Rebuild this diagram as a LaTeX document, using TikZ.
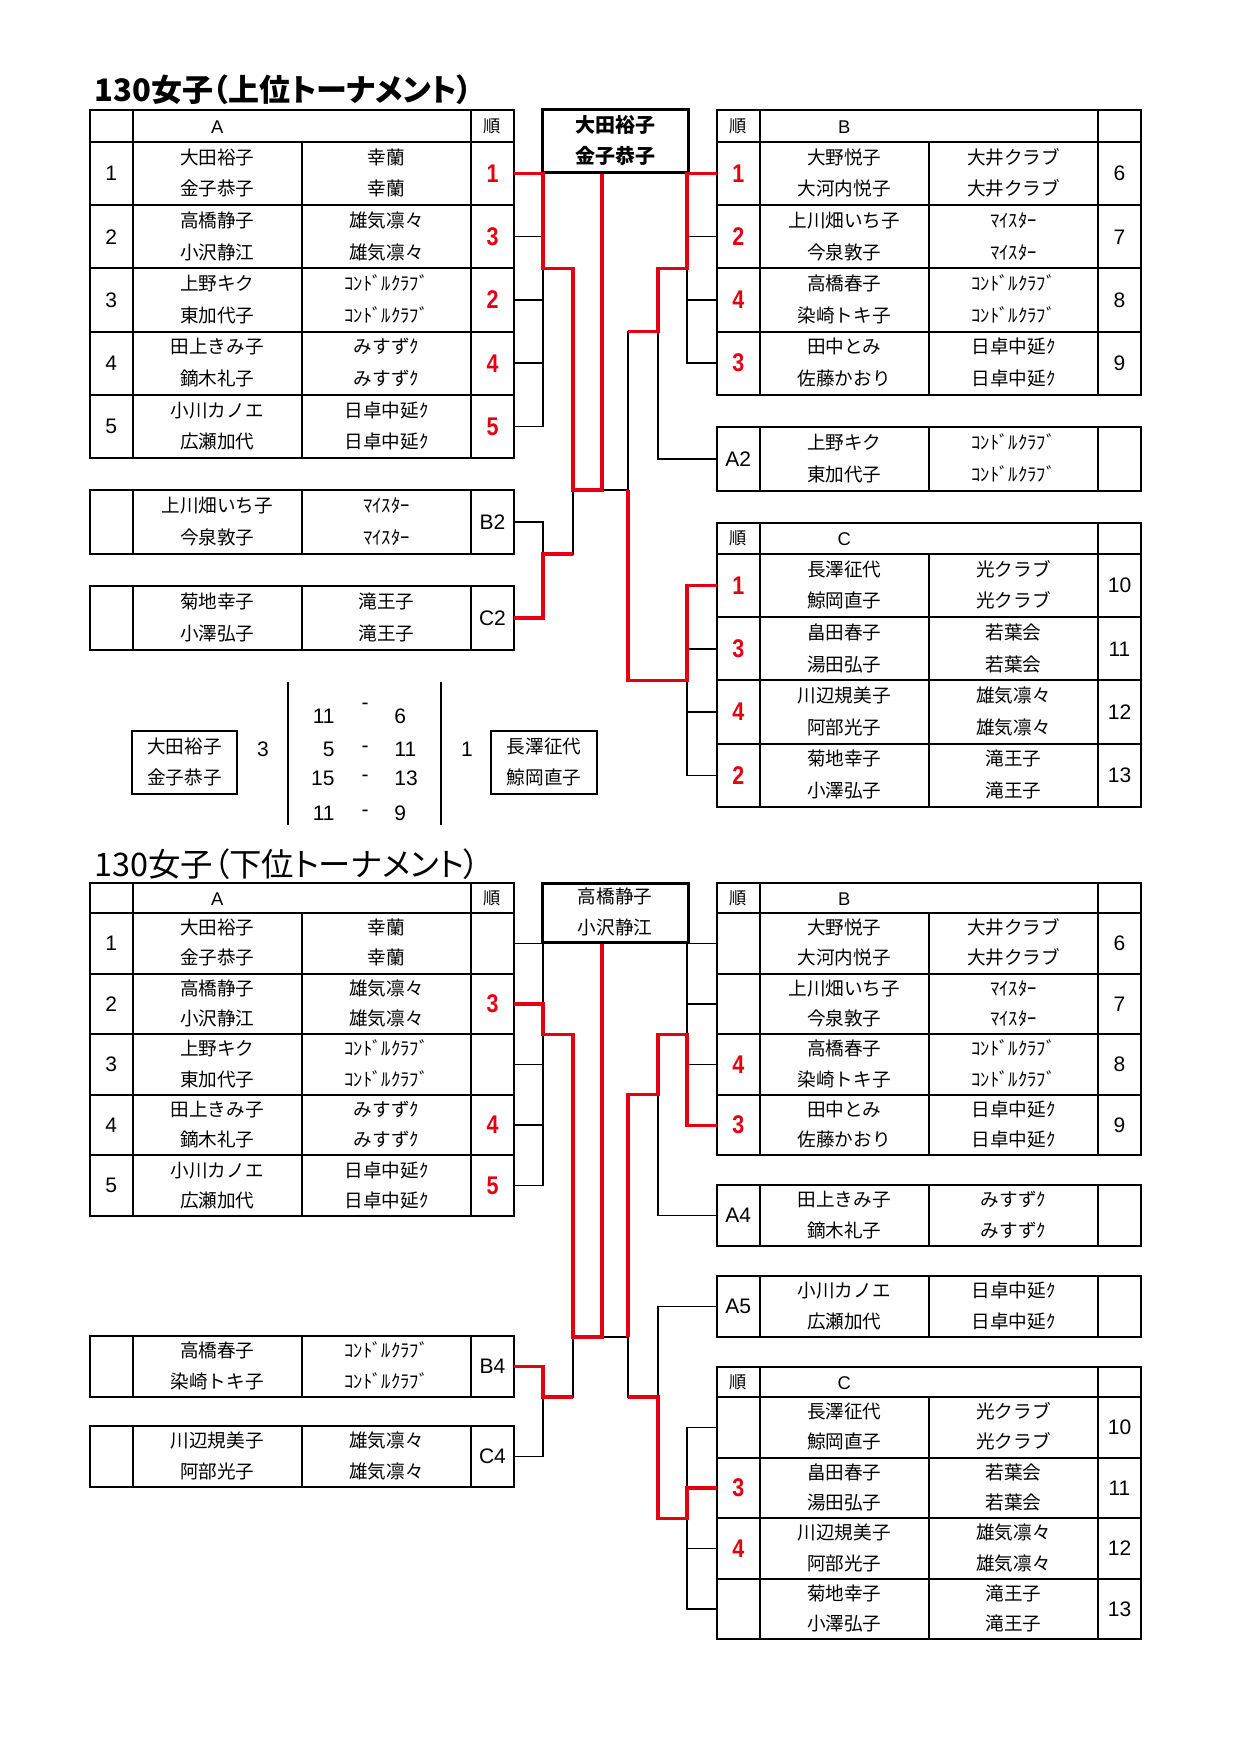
\documentclass[tikz,border=0pt]{standalone}
\usepackage{fontspec}
\setmainfont{Liberation Sans}
\newfontfamily\jp{Noto Sans CJK JP}
\newfontfamily\jpt[RawFeature=+palt]{Noto Sans CJK JP}
\newfontfamily\rkfont[FakeStretch=0.84]{Liberation Sans}
\definecolor{rd}{RGB}{228,0,18}
\newcounter{rowc}
\newcommand\rk{\color{rd}\rkfont\bfseries\fontsize{12.8}{14}\selectfont}
\newcommand\jun{\jp\fontsize{8.6}{10}\selectfont 順}
\tikzset{
  tbl/.style={line width=1pt},
  br/.style={line width=0.7pt},
  rl/.style={line width=1.6pt,draw=rd},
  nm/.style={font=\jp\fontsize{9.3}{11}\selectfont,inner sep=0pt,text height=7.4pt,text depth=0.9pt},
  lab/.style={font=\fontsize{10.5}{12}\selectfont,inner sep=0pt},
  hd/.style={font=\fontsize{9.2}{11}\selectfont,inner sep=0pt},
  sc/.style={font=\fontsize{10.5}{12}\selectfont,inner sep=0pt},
  wbox/.style={draw,line width=1.5pt,inner sep=0pt,minimum width=73pt},
}
% header row: x0, ytop, h, left, letter, right
\newcommand\hdr[6]{%
  \stepcounter{rowc}%
  \draw[tbl] (#1,#2) rectangle ({#1+424},{#2+#3});
  \draw[tbl] ({#1+42.5},#2) -- ({#1+42.5},{#2+#3}) ({#1+381},#2) -- ({#1+381},{#2+#3});
  \node[lab] (h\arabic{rowc}l) at ({#1+21.25},{#2+#3/2}) {#4};
  \node[hd] (h\arabic{rowc}m) at ({#1+127.25},{#2+#3/2+1}) {#5};
  \node[lab] (h\arabic{rowc}r) at ({#1+402.5},{#2+#3/2}) {#6};
}
% team row: x0, ytop, h, left, name1, name2, club1, club2, right
\newcommand\trow[9]{%
  \stepcounter{rowc}%
  \draw[tbl] (#1,#2) rectangle ({#1+424},{#2+#3});
  \draw[tbl] ({#1+42.5},#2) -- ({#1+42.5},{#2+#3}) ({#1+212},#2) -- ({#1+212},{#2+#3}) ({#1+381},#2) -- ({#1+381},{#2+#3});
  \node[lab] (r\arabic{rowc}l) at ({#1+21.25},{#2+#3/2}) {#4};
  \node[nm] (r\arabic{rowc}a) at ({#1+127.25},{#2+#3/4}) {#5};
  \node[nm] (r\arabic{rowc}b) at ({#1+127.25},{#2+3*#3/4}) {#6};
  \node[nm] (r\arabic{rowc}c) at ({#1+296.5},{#2+#3/4}) {#7};
  \node[nm] (r\arabic{rowc}d) at ({#1+296.5},{#2+3*#3/4}) {#8};
  \node[lab] (r\arabic{rowc}r) at ({#1+402.5},{#2+#3/2}) {#9};
}
\begin{document}
\begin{tikzpicture}[x=0.5pt,y=-0.5pt]
\fill[white] (0,0) rectangle (1240,1754);
\useasboundingbox (0,0) rectangle (1240,1754);

% ================= TOP =================
\node[anchor=west,inner sep=0pt,font=\jpt\bfseries\fontsize{15.5}{18}\selectfont] (ttl1) at (94,90) {130女子（上位トーナメント）};

\hdr{90}{110}{32}{}{A}{\jun}
\trow{90}{142}{63.2}{1}{大田裕子}{金子恭子}{幸蘭}{幸蘭}{\rk 1}
\trow{90}{205.2}{63.2}{2}{高橋静子}{小沢静江}{雄気凛々}{雄気凛々}{\rk 3}
\trow{90}{268.4}{63.2}{3}{上野キク}{東加代子}{ｺﾝﾄﾞﾙｸﾗﾌﾞ}{ｺﾝﾄﾞﾙｸﾗﾌﾞ}{\rk 2}
\trow{90}{331.6}{63.2}{4}{田上きみ子}{鏑木礼子}{みすずｸ}{みすずｸ}{\rk 4}
\trow{90}{394.8}{63.2}{5}{小川カノエ}{広瀬加代}{日卓中延ｸ}{日卓中延ｸ}{\rk 5}

\trow{90}{490}{64}{}{上川畑いち子}{今泉敦子}{ﾏｲｽﾀｰ}{ﾏｲｽﾀｰ}{B2}
\trow{90}{586}{64}{}{菊地幸子}{小澤弘子}{滝王子}{滝王子}{C2}

\hdr{717}{110}{32}{\jun}{B}{}
\trow{717}{142}{63.2}{\rk 1}{大野悦子}{大河内悦子}{大井クラブ}{大井クラブ}{6}
\trow{717}{205.2}{63.2}{\rk 2}{上川畑いち子}{今泉敦子}{ﾏｲｽﾀｰ}{ﾏｲｽﾀｰ}{7}
\trow{717}{268.4}{63.2}{\rk 4}{高橋春子}{染崎トキ子}{ｺﾝﾄﾞﾙｸﾗﾌﾞ}{ｺﾝﾄﾞﾙｸﾗﾌﾞ}{8}
\trow{717}{331.6}{63.2}{\rk 3}{田中とみ}{佐藤かおり}{日卓中延ｸ}{日卓中延ｸ}{9}

\trow{717}{427}{64}{A2}{上野キク}{東加代子}{ｺﾝﾄﾞﾙｸﾗﾌﾞ}{ｺﾝﾄﾞﾙｸﾗﾌﾞ}{}

\hdr{717}{523}{31}{\jun}{C}{}
\trow{717}{554}{63.2}{\rk 1}{長澤征代}{鯨岡直子}{光クラブ}{光クラブ}{10}
\trow{717}{617.2}{63.2}{\rk 3}{畠田春子}{湯田弘子}{若葉会}{若葉会}{11}
\trow{717}{680.4}{63.2}{\rk 4}{川辺規美子}{阿部光子}{雄気凛々}{雄気凛々}{12}
\trow{717}{743.6}{63.2}{\rk 2}{菊地幸子}{小澤弘子}{滝王子}{滝王子}{13}

% winner box top
\node[wbox,minimum height=31.5pt] (winT) at (615,141.5) {};
\node[nm,font=\jp\bfseries\fontsize{10}{11}\selectfont] (winT1) at (615,126) {大田裕子};
\node[nm,font=\jp\bfseries\fontsize{10}{11}\selectfont] (winT2) at (615,157) {金子恭子};

% score
\node[draw,line width=1pt,inner sep=0pt,minimum width=52.5pt,minimum height=31.5pt] (sL) at (184.5,762.5) {};
\node[nm] (sL1) at (184.5,747) {大田裕子};
\node[nm] (sL2) at (184.5,778) {金子恭子};
\node[draw,line width=1pt,inner sep=0pt,minimum width=53pt,minimum height=31.5pt] (sR) at (544,762.5) {};
\node[nm] (sR1) at (544,747) {長澤征代};
\node[nm] (sR2) at (544,778) {鯨岡直子};
\node[sc] (s3) at (263,749) {3};
\node[sc] (s1) at (467,749) {1};
\coordinate (barLt) at (288,682); \coordinate (barLb) at (288,825);
\coordinate (barRt) at (441,682); \coordinate (barRb) at (441,825);
\draw[line width=0.9pt] (barLt) -- (barLb);
\draw[line width=0.9pt] (barRt) -- (barRb);
\node[sc,anchor=east] (g1a) at (335,716) {11};
\node[sc] (g1d) at (365,706) {-};
\node[sc,anchor=west] (g1b) at (394,716) {6};
\node[sc,anchor=east] (g2a) at (335,749) {5};
\node[sc] (g2d) at (365,749) {-};
\node[sc,anchor=west] (g2b) at (394,749) {11};
\node[sc,anchor=east] (g3a) at (335,778) {15};
\node[sc] (g3d) at (365,778) {-};
\node[sc,anchor=west] (g3b) at (394,778) {13};
\node[sc,anchor=east] (g4a) at (335,813) {11};
\node[sc] (g4d) at (365,813) {-};
\node[sc,anchor=west] (g4b) at (394,813) {9};

% top bracket coordinates
\foreach \i/\y in {1/173.6,2/236.8,3/300,4/363.2,5/426.4} {\coordinate (tA\i) at (514,\y);}
\foreach \i/\y in {1/173.6,2/236.8,3/300,4/363.2} {\coordinate (tB\i) at (717,\y);}
\foreach \i/\y in {1/585.6,2/648.8,3/712,4/775.2} {\coordinate (tC\i) at (717,\y);}
\coordinate (tB2L) at (514,522);
\coordinate (tC2L) at (514,618);
\coordinate (tA2R) at (717,459);
\coordinate (jTA) at (543,268.4);
\coordinate (jTBC) at (543,554);
\coordinate (jTL) at (573,490);
\coordinate (jTF) at (602,490);
\coordinate (jTR) at (628,490);
\coordinate (jTB) at (687,268.4);
\coordinate (jTBA) at (658,331.6);
\coordinate (jTC) at (687,680.4);

\draw[br] (tA1) -| (jTA) |- (tA5);
\foreach \i in {2,3,4} {\draw[br] (tA\i) -- (tA\i -| jTA);}
\draw[br] (jTA) -| (jTL) |- (jTBC);
\draw[br] (tB2L) -| (jTBC) |- (tC2L);
\draw[br] (jTL) -- (jTR);
\draw[br] (jTF) -- (jTF |- winT.south);
\draw[br] (tB1) -| (jTB) |- (tB4);
\foreach \i in {2,3} {\draw[br] (tB\i) -- (tB\i -| jTB);}
\draw[br] (jTB) -| (jTBA) |- (tA2R);
\draw[br] (jTBA) -| (jTR) |- (jTC);
\draw[br] (tC1) -| (jTC) |- (tC4);
\foreach \i in {2,3} {\draw[br] (tC\i) -- (tC\i -| jTC);}

\draw[rl] (tA1) -| (jTA) -| (jTL) -- (jTF) -- (jTF |- winT.south);
\draw[rl] (tC2L) -| (jTBC) -- (jTBC -| jTL);
\draw[rl] (tB1) -| (jTB) -| (jTBA) -- (jTBA -| jTR);
\draw[rl] (tC1) -| (jTC) -| (jTR);

% ================= BOTTOM =================
\node[anchor=west,inner sep=0pt,font=\jpt\fontsize{16.2}{18}\selectfont] (ttl2) at (94,864) {130女子（下位トーナメント）};

\hdr{90}{883}{30}{}{A}{\jun}
\trow{90}{913}{60.6}{1}{大田裕子}{金子恭子}{幸蘭}{幸蘭}{}
\trow{90}{973.6}{60.6}{2}{高橋静子}{小沢静江}{雄気凛々}{雄気凛々}{\rk 3}
\trow{90}{1034.2}{60.6}{3}{上野キク}{東加代子}{ｺﾝﾄﾞﾙｸﾗﾌﾞ}{ｺﾝﾄﾞﾙｸﾗﾌﾞ}{}
\trow{90}{1094.8}{60.6}{4}{田上きみ子}{鏑木礼子}{みすずｸ}{みすずｸ}{\rk 4}
\trow{90}{1155.4}{60.6}{5}{小川カノエ}{広瀬加代}{日卓中延ｸ}{日卓中延ｸ}{\rk 5}

\trow{90}{1336}{61}{}{高橋春子}{染崎トキ子}{ｺﾝﾄﾞﾙｸﾗﾌﾞ}{ｺﾝﾄﾞﾙｸﾗﾌﾞ}{B4}
\trow{90}{1426}{61}{}{川辺規美子}{阿部光子}{雄気凛々}{雄気凛々}{C4}

\hdr{717}{883}{30}{\jun}{B}{}
\trow{717}{913}{60.6}{}{大野悦子}{大河内悦子}{大井クラブ}{大井クラブ}{6}
\trow{717}{973.6}{60.6}{}{上川畑いち子}{今泉敦子}{ﾏｲｽﾀｰ}{ﾏｲｽﾀｰ}{7}
\trow{717}{1034.2}{60.6}{\rk 4}{高橋春子}{染崎トキ子}{ｺﾝﾄﾞﾙｸﾗﾌﾞ}{ｺﾝﾄﾞﾙｸﾗﾌﾞ}{8}
\trow{717}{1094.8}{60.6}{\rk 3}{田中とみ}{佐藤かおり}{日卓中延ｸ}{日卓中延ｸ}{9}

\trow{717}{1185}{61}{A4}{田上きみ子}{鏑木礼子}{みすずｸ}{みすずｸ}{}
\trow{717}{1276}{61}{A5}{小川カノエ}{広瀬加代}{日卓中延ｸ}{日卓中延ｸ}{}

\hdr{717}{1367}{30}{\jun}{C}{}
\trow{717}{1397}{60.6}{}{長澤征代}{鯨岡直子}{光クラブ}{光クラブ}{10}
\trow{717}{1457.6}{60.6}{\rk 3}{畠田春子}{湯田弘子}{若葉会}{若葉会}{11}
\trow{717}{1518.2}{60.6}{\rk 4}{川辺規美子}{阿部光子}{雄気凛々}{雄気凛々}{12}
\trow{717}{1578.8}{60.6}{}{菊地幸子}{小澤弘子}{滝王子}{滝王子}{13}

% winner box bottom
\node[wbox,minimum height=29.5pt] (winB) at (615,912.5) {};
\node[nm] (winB1) at (615,897) {高橋静子};
\node[nm] (winB2) at (615,928) {小沢静江};

% bottom bracket coordinates
\foreach \i/\y in {1/943.3,2/1003.9,3/1064.5,4/1125.1,5/1185.7} {\coordinate (bA\i) at (514,\y);}
\foreach \i/\y in {1/943.3,2/1003.9,3/1064.5,4/1125.1} {\coordinate (bB\i) at (717,\y);}
\foreach \i/\y in {1/1427.3,2/1487.9,3/1548.5,4/1609.1} {\coordinate (bC\i) at (717,\y);}
\coordinate (bB4L) at (514,1366.5);
\coordinate (bC4L) at (514,1456.5);
\coordinate (bA4R) at (717,1215.5);
\coordinate (bA5R) at (717,1306.5);
\coordinate (jBA) at (543,1034.2);
\coordinate (jBBC) at (543,1397);
\coordinate (jBL) at (573,1337);
\coordinate (jBF) at (602,1337);
\coordinate (jBR) at (628,1337);
\coordinate (jBB) at (687,1034.2);
\coordinate (jBBA) at (658,1094.8);
\coordinate (jBCA) at (658,1397);
\coordinate (jBC) at (687,1518.2);

\draw[br] (bA1) -| (jBA) |- (bA5);
\foreach \i in {2,3,4} {\draw[br] (bA\i) -- (bA\i -| jBA);}
\draw[br] (jBA) -| (jBL) |- (jBBC);
\draw[br] (bB4L) -| (jBBC) |- (bC4L);
\draw[br] (jBL) -- (jBR);
\draw[br] (jBF) -- (jBF |- winB.south);
\draw[br] (bB1) -| (jBB) |- (bB4);
\foreach \i in {2,3} {\draw[br] (bB\i) -- (bB\i -| jBB);}
\draw[br] (jBB) -| (jBBA) |- (bA4R);
\draw[br] (jBBA) -| (jBR) |- (jBCA);
\draw[br] (bA5R) -| (jBCA) |- (jBC);
\draw[br] (bC1) -| (jBC) |- (bC4);
\foreach \i in {2,3} {\draw[br] (bC\i) -- (bC\i -| jBC);}

\draw[rl] (bA2) -| (jBA) -| (jBL) -- (jBF) -- (jBF |- winB.south);
\draw[rl] (bB4) -| (jBB) -| (jBBA) -| (jBR);
\draw[rl] (bB4L) -| (jBBC) -- (jBBC -| jBL);
\draw[rl] (bC2) -| (jBC) -| (jBCA) -- (jBCA -| jBR);
\end{tikzpicture}
\end{document}
